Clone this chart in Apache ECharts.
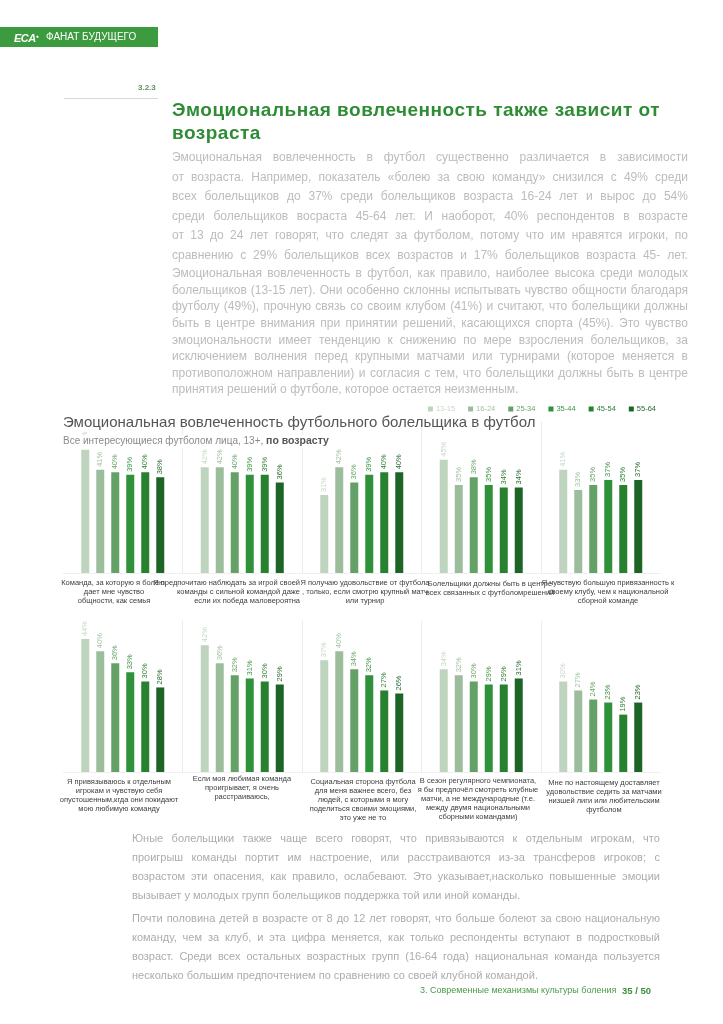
<!DOCTYPE html>
<html><head><meta charset="utf-8">
<script src="https://cdn.jsdelivr.net/npm/echarts@6/dist/echarts.min.js"></script>
<style>
html,body{margin:0;padding:0;background:#fff;width:723px;height:1024px;overflow:hidden;}
#chart{position:absolute;left:0;top:0;width:723px;height:1024px;}
.ov{position:absolute;font-family:"Liberation Sans",Arial,sans-serif;white-space:nowrap;}
.ln{display:flex;justify-content:space-between;}
.ln.last{justify-content:flex-start;}
.ln.last span{margin-right:0.28em;}
</style></head><body>
<div id="chart"></div>
<div id="overlay"></div>
<script>
// ---- data ----
const ageGroups = ['13-15', '16-24', '25-34', '35-44', '45-54', '55-64'];
const statements = [
  'Команда, за которую я болею,\nдает мне чувство\nобщности, как семья',
  'Я предпочитаю наблюдать за игрой своей\nкоманды с сильной командой даже\nесли их победа маловероятна',
  'Я получаю удовольствие от футбола\n, только, если смотрю крупный матч\nили турнир',
  'Болельщики должны быть в центре\nвсех связанных с футболомрешений',
  'Я чувствую большую привязанность к\nсвоему клубу, чем к национальной\nсборной команде',
  'Я привязываюсь к отдельным\nигрокам и чувствую себя\nопустошенным,кгда они покидают\nмою любимую команду',
  'Если моя любимая команда\nпроигрывает, я очень\nрасстраиваюсь,',
  'Социальная сторона футбола\nдля меня важнее всего, без\nлюдей, с которыми я могу\nподелиться своими эмоциями,\nэто уже не то',
  'В сезон регулярного чемпионата,\nя бы предпочёл смотреть клубные\nматчи, а не международные (т.е.\nмежду двумя национальными\nсборными командами)',
  'Мне по настоящему доставляет\nудовольствие седить за матчами\nнизшей лиги или любительским\nфутболом'
];
const age1315 = [49, 42, 31, 45, 41, 44, 42, 37, 34, 30];
const age1624 = [41, 42, 42, 35, 33, 40, 36, 40, 32, 27];
const age2534 = [40, 40, 36, 38, 35, 36, 32, 34, 30, 24];
const age3544 = [39, 39, 39, 35, 37, 33, 31, 32, 29, 23];
const age4554 = [40, 39, 40, 34, 35, 30, 30, 27, 29, 19];
const age5564 = [38, 36, 40, 34, 37, 28, 29, 26, 31, 23];
const rowMax = [60, 50];
const chartTitle = 'Эмоциональная вовлеченность футбольного болельщика в футбол';
const subtitlePlain = 'Все интересующиеся футболом лица, 13+, ';
const subtitleBold = 'по возрасту';

// ---- styles / layout ----
const values = [age1315, age1624, age2534, age3544, age4554, age5564];
const colors = ['#bfd4bf', '#9bbd9b', '#64a166', '#2f9139', '#27812f', '#1d6526'];
const labelColors = ['#c6d8c6', '#a2c2a2', '#6ba56d', '#3b9444', '#2f8136', '#276b2d'];
const FONT = '"Liberation Sans", Arial, sans-serif';
const rowTop = [422, 621], rowH = 151, colLeft = 63, colW = 119.5;
const stmtPos = [
  [114, 578, 'center'], [300, 578, 'right'], [365, 578, 'center'], [490, 579, 'center'], [608, 578, 'center'],
  [119, 777, 'center'], [242, 774, 'center'], [363, 777, 'center'], [478, 776, 'center'], [604, 778, 'center']
];

const grids = [], xAxes = [], yAxes = [], series = [], graphics = [];
for (let i = 0; i < 10; i++) {
  const row = Math.floor(i / 5), col = i % 5;
  grids.push({left: colLeft + col * colW, top: rowTop[row], width: colW, height: rowH, containLabel: false});
  xAxes.push({type: 'category', gridIndex: i, data: [''], axisTick: {show: false}, axisLabel: {show: false},
    axisLine: {show: true, lineStyle: {color: '#f0f0f0', width: 1}}});
  yAxes.push({type: 'value', gridIndex: i, min: 0, max: rowMax[row], splitLine: {show: false},
    axisLabel: {show: false}, axisTick: {show: false},
    axisLine: {show: col > 0, lineStyle: {color: '#ececec', width: 1}}});
  for (let a = 0; a < 6; a++) {
    series.push({
      type: 'bar', name: ageGroups[a], xAxisIndex: i, yAxisIndex: i,
      data: [values[a][i]], barWidth: 8, barGap: '87.5%',
      itemStyle: {color: colors[a]},
      label: {show: true, position: 'top', rotate: 90, align: 'left', verticalAlign: 'middle', distance: 3,
        formatter: '{c}%', fontSize: 7.5, fontFamily: FONT, color: labelColors[a]},
      emphasis: {disabled: true}, animation: false
    });
  }
  const p = stmtPos[i];
  graphics.push({type: 'text', x: p[0], y: p[1], z: 10,
    style: {text: statements[i], align: p[2], verticalAlign: 'top', fontSize: 7.5, fontFamily: FONT,
      fill: '#404040', lineHeight: 9}});
}

const chart = echarts.init(document.getElementById('chart'), null, {renderer: 'canvas'});
chart.setOption({
  animation: false,
  backgroundColor: '#fff',
  title: [
    {text: chartTitle, left: 63, top: 415, padding: 0, textStyle: {fontSize: 15, fontWeight: 'normal', color: '#555', fontFamily: FONT}},
    {text: subtitlePlain + '{b|' + subtitleBold + '}', left: 61, top: 435, z: 20, backgroundColor: 'rgba(255,255,255,0.92)', padding: [1, 2, 1, 2],
      textStyle: {fontSize: 10, fontWeight: 'normal', color: '#8a8a8a', fontFamily: FONT,
        rich: {b: {fontSize: 10.5, fontWeight: 'bold', color: '#555', fontFamily: FONT}}}}
  ],
  legend: {
    data: ageGroups.map((g, k) => ({name: g, textStyle: {color: labelColors[k]}})),
    right: 62, top: 400, icon: 'rect', itemWidth: 5, itemHeight: 5, itemGap: 13,
    textStyle: {fontSize: 7.5, fontFamily: FONT, padding: [0, 0, 0, -2]}, selectedMode: false
  },
  grid: grids, xAxis: xAxes, yAxis: yAxes, series: series, graphic: graphics
});

// ---- page text (HTML) ----
const ov = document.getElementById('overlay');
function add(html, css) { const d = document.createElement('div'); d.className = 'ov'; d.style.cssText = css; d.innerHTML = html; ov.appendChild(d); return d; }
function para(lines, left, top, width, lh, fs, color) {
  lines.forEach((t, k) => {
    const last = t.endsWith('|');
    const txt = last ? t.slice(0, -1) : t;
    const d = add('', `left:${left}px;top:${top[k] - lh / 2}px;width:${width}px;height:${lh}px;line-height:${lh}px;font-size:${fs}px;color:${color};`);
    d.classList.add('ln'); if (last) d.classList.add('last');
    txt.split(/ +/).forEach(w => { const s = document.createElement('span'); s.textContent = w; d.appendChild(s); });
  });
}
// header band
add('', 'left:0;top:27px;width:158px;height:20px;background:#3d9b3f;');
add('<span style="font-weight:bold;font-style:italic;font-size:11px;letter-spacing:-0.5px;">ECA</span><span style="font-size:5px;vertical-align:top;">●</span>', 'left:14px;top:29px;color:#fff;line-height:15px;');
add('ФАНАТ БУДУЩЕГО', 'left:46px;top:31px;font-size:10px;color:#fff;line-height:12px;');
add('3.2.3', 'left:138px;top:83px;font-size:8px;font-weight:bold;color:#5f8f5f;line-height:10px;');
add('', 'left:64px;top:98px;width:94px;height:1px;background:#d8d8d8;');
// main title
add('Эмоциональная вовлеченность также зависит от<br>возраста', 'left:172px;top:98px;font-size:19px;font-weight:bold;color:#2e8c35;line-height:23px;letter-spacing:0.5px;');
const p1 = [
  'Эмоциональная вовлеченность в футбол существенно различается в зависимости',
  'от возраста. Например, показатель «болею за свою команду» снизился с 49% среди',
  'всех болельщиков до 37% среди болельщиков возраста 16-24 лет и вырос до 54%',
  'среди болельщиков восраста 45-64 лет. И наоборот, 40% респондентов в возрасте',
  'от 13 до 24 лет говорят, что следят за футболом, потому что им нравятся игроки, по',
  'сравнению с 29% болельщиков всех возрастов и 17% болельщиков возраста 45- лет.',
  'Эмоциональная вовлеченность в футбол, как правило, наиболее высока среди молодых',
  'болельщиков (13-15 лет). Они особенно склонны испытывать чувство общности благодаря',
  'футболу (49%), прочную связь со своим клубом (41%) и считают, что болельщики должны',
  'быть в центре внимания при принятии решений, касающихся спорта (45%). Это чувство',
  'эмоциональности имеет тенденцию к снижению по мере взросления болельщиков, за',
  'исключением волнения перед крупными матчами или турнирами (которое меняется в',
  'противоположном направлении) и согласия с тем, что болельщики должны быть в центре',
  'принятия решений о футболе, которое остается неизменным.|'
];
const p1y = [157, 177, 196, 216, 235, 255, 273, 290, 306, 323, 340, 356, 373, 389];
para(p1, 172, p1y, 516, 17, 12, '#bcbcbc');
const p2 = [
  'Юные болельщики также чаще всего говорят, что привязываются к отдельным игрокам, что',
  'проигрыш команды портит им настроение, или расстраиваются из-за трансферов игроков; с',
  'возрастом эти опасения, как правило, ослабевают. Это указывает,насколько повышенные эмоции',
  'вызывает у молодых групп болельщиков поддержка той или иной команды.|',
  'Почти половина детей в возрасте от 8 до 12 лет говорят, что больше болеют за свою национальную',
  'команду, чем за клуб, и эта цифра меняется, как только респонденты вступают в подростковый',
  'возраст. Среди всех остальных возрастных групп (16-64 года) национальная команда пользуется',
  'несколько большим предпочтением по сравнению со своей клубной командой.|'
];
const p2y = [838, 857, 876, 895, 918, 937, 956, 975];
para(p2, 132, p2y, 528, 17, 11, '#acacac');
// footer
add('3. Современные механизмы культуры боления', 'left:420px;top:985px;font-size:9px;color:#4c9a4c;line-height:11px;');
add('35 / 50', 'left:622px;top:985px;font-size:9.5px;font-weight:bold;color:#3d8f3d;line-height:11px;');
</script>
</body></html>
